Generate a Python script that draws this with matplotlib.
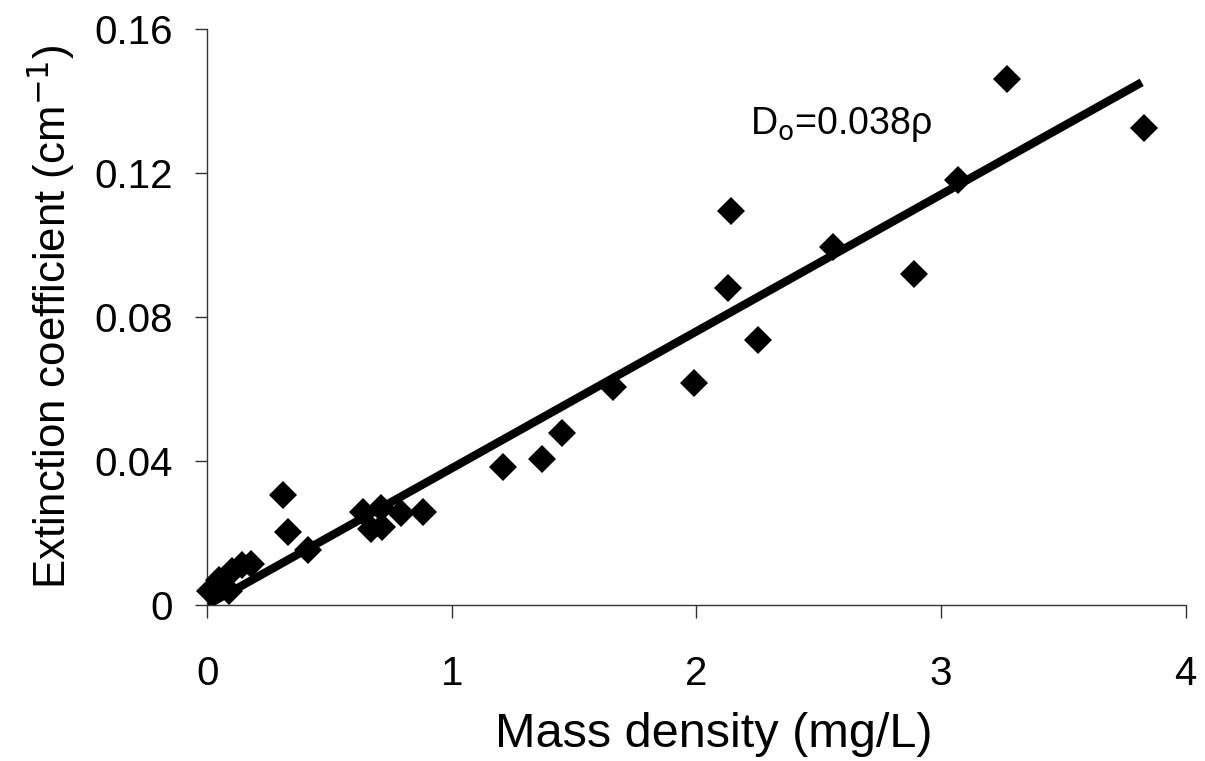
import matplotlib
matplotlib.use("Agg")
import matplotlib.pyplot as plt
import numpy as np

plt.rcParams['font.family'] = ['Liberation Sans', 'DejaVu Sans']

mass_density = [0.01, 0.05, 0.09, 0.10, 0.14, 0.18, 0.31, 0.33, 0.41,
                0.635, 0.67, 0.71, 0.715, 0.79, 0.88,
                1.21, 1.37, 1.45, 1.66, 1.99, 2.13, 2.14, 2.25, 2.56,
                2.89, 3.07, 3.27, 3.83]
extinction = [0.0040, 0.0070, 0.0040, 0.0095, 0.0110, 0.0115, 0.0306, 0.0203, 0.0153,
              0.0258, 0.0210, 0.0270, 0.0217, 0.0256, 0.0259,
              0.0384, 0.0406, 0.0478, 0.0606, 0.0617, 0.0880, 0.1093, 0.0737, 0.0995,
              0.0920, 0.1180, 0.1460, 0.1325]
slope = 0.038
fit_x = [0.0, 3.82]

x_ticks = [0, 1, 2, 3, 4]
y_ticks = [0, 0.04, 0.08, 0.12, 0.16]
y_tick_labels = ['0', '0.04', '0.08', '0.12', '0.16']

fig = plt.figure(figsize=(12.05, 7.61), dpi=100)
ax = fig.add_axes([0.172, 0.205, 0.812, 0.757])

fx = np.array(fit_x)
ax.plot(fx, slope * fx, color='black', lw=6, solid_capstyle='butt', zorder=2)
ax.plot(mass_density, extinction, linestyle='none', marker='D', markersize=14.5,
        color='black', markeredgewidth=0, zorder=3, clip_on=False)

ax.set_xlim(0, 4)
ax.set_ylim(0, 0.16)
ax.set_xticks(x_ticks)
ax.set_xticklabels([str(t) for t in x_ticks])
ax.set_yticks(y_ticks)
ax.set_yticklabels(y_tick_labels)

for s in ['top', 'right']:
    ax.spines[s].set_visible(False)
for s in ['left', 'bottom']:
    ax.spines[s].set_linewidth(1.0)
    ax.spines[s].set_color('#333333')

ax.tick_params(axis='x', direction='out', length=9, width=1, labelsize=29, pad=27, color='#333333')
ax.tick_params(axis='y', direction='out', length=9, width=1, labelsize=29, pad=16, color='#333333')

ax.set_xlabel('Mass density (mg/L)', fontsize=35, labelpad=14)
ax.xaxis.label.set_x(0.518)
ax.set_ylabel(r'Extinction coefficient (cm$^{-1}$)', fontsize=31.5, labelpad=12)

ax.text(2.22, 0.1335, r'D$_{\rm o}$=0.038ρ', fontsize=27, ha='left', va='center')

fig.savefig('out.png', dpi=100, facecolor='white')
